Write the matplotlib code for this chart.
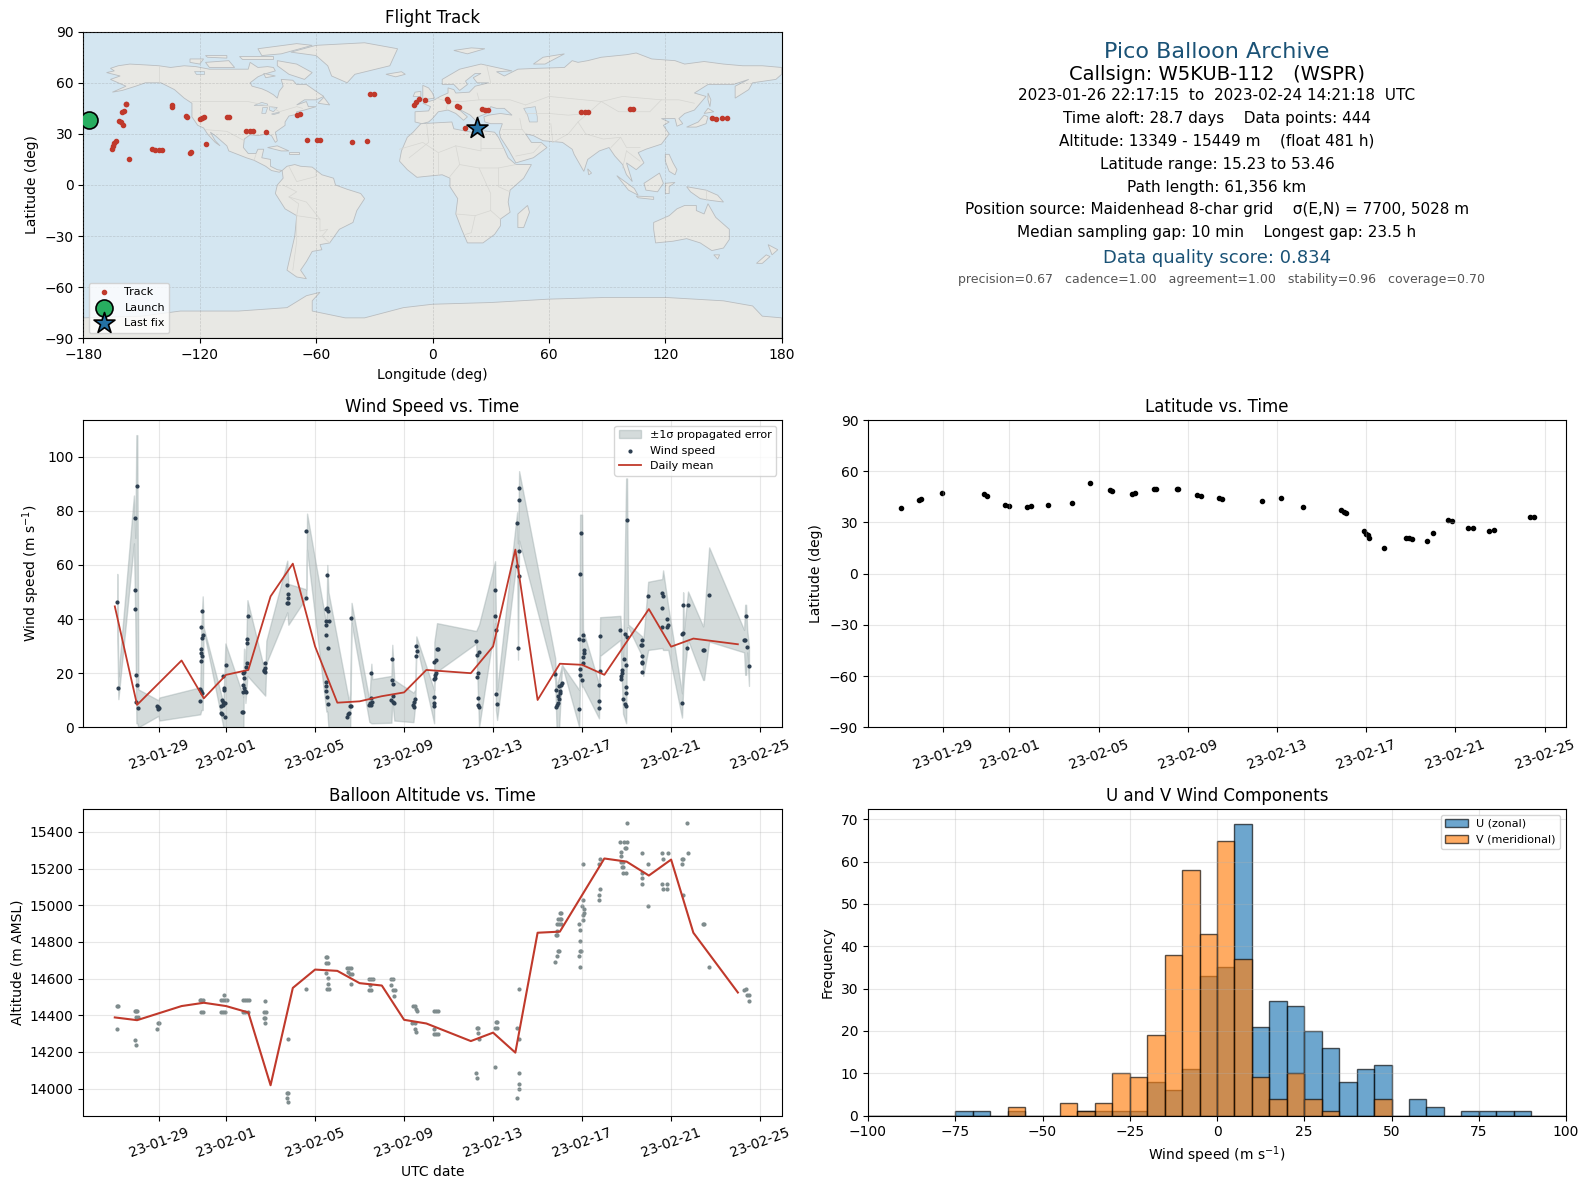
import matplotlib
matplotlib.use("Agg")
import matplotlib.pyplot as plt
import matplotlib.dates as mdates
import pandas as pd

# All times are days since 2023-01-29 00:00 UTC
base_date = pd.Timestamp("2023-01-29")
tick_dates = ["2023-01-29", "2023-02-01", "2023-02-05", "2023-02-09", "2023-02-13",
              "2023-02-17", "2023-02-21", "2023-02-25"]

# Ground track
track_lon = [-157.9, -157.9, -160.1, -158.9, -161.5, -160.8, -159.6, -163, -164.2, -164.9, -165.1,
             -156.7, -144.5, -142.8, -140.9, -139.2, -134.4, -134.4, -127, -126.5, -120, -118.6,
             -117.6, -124.6, -125, -116.9, -106.1, -104.9, -96, -94.3, -92.6, -85.7, -69.6, -68.2,
             -64.6, -59.5, -58.1, -41.5, -33.6, -32.2, -30, -9.6, -8.4, -7.2, -4.1, 7.7, 8.1, 12.7,
             13.9, 25.4, 26.9, 28.8, 16.8, 76.8, 78.5, 80.1, 101.7, 103.2, 144, 145.9, 149.3, 151.7]
track_lat = [47.8, 47.3, 43.1, 43.5, 37.5, 36.7, 35.3, 25.7, 24.5, 23.1, 21.2,
             15.3, 21, 20.8, 20.6, 20.4, 46.7, 45.9, 40.4, 40, 38.8, 39.4,
             39.8, 19.4, 18.8, 24.1, 40, 40, 31.8, 31.8, 31.8, 31, 41.2, 41.8,
             26.5, 26.5, 26.5, 25.3, 25.9, 53.5, 53.5, 46.7, 48.6, 50.2, 49.8, 50.2, 49.6, 46.3,
             45.7, 44.7, 44.3, 44.1, 33.5, 42.9, 42.9, 42.9, 44.7, 44.7, 39.4, 38.8, 39.4, 39.4]
launch_lon, launch_lat = -177.1, 38.2
last_lon, last_lat = 22.8, 33.5

# Simplified coastlines (lon, lat)
north_america = [(-168, 66), (-164, 67), (-166, 68.5), (-162, 70), (-156, 71), (-148, 70.5), (-141, 70), (-135, 69), (-128, 70),
                 (-122, 69.5), (-115, 68), (-108, 68), (-100, 68), (-95, 68),
                 (-94, 72), (-90, 69), (-85, 69.5), (-82, 69), (-81, 67), (-87, 65), (-90, 63.5), (-94, 60), (-93, 58), (-88, 56.5), (-85, 55), (-82, 53),
                 (-80, 51), (-79, 55), (-77, 58), (-78, 62), (-72, 61.5), (-70, 59), (-65, 59), (-60, 55), (-56, 52), (-60, 50),
                 (-66, 50), (-70, 47), (-65, 49), (-64, 46), (-60, 46), (-66, 44), (-70, 43), (-70, 41.5), (-74, 40.5),
                 (-76, 37), (-76, 35), (-81, 31), (-80, 26), (-81, 25), (-83, 29), (-85, 30), (-90, 29), (-94, 29.5),
                 (-97, 27), (-97.5, 22), (-95, 18.5), (-91, 18.5), (-90, 21), (-87, 21), (-88, 16), (-83.5, 15),
                 (-83.5, 11), (-80, 9), (-77.5, 8.5), (-79, 7.5), (-83, 8.5), (-86, 11), (-92, 14.5), (-96, 16),
                 (-105, 20), (-106, 23), (-112, 29), (-114.5, 31), (-112, 26), (-109.5, 23), (-112, 25), (-116, 30),
                 (-118, 33.5), (-121, 35), (-124, 40), (-124, 48), (-128, 51), (-133, 56), (-140, 60), (-148, 60),
                 (-153, 58), (-160, 55.5), (-165, 54.5), (-158, 58), (-162, 60), (-166, 62), (-161, 64)]
south_america = [(-77.5, 8.5), (-75, 11), (-71, 12), (-68, 11), (-62, 10.5), (-57, 6), (-51, 4), (-50, 0), (-44, -2.5),
                 (-37, -5), (-35, -8), (-39, -15), (-41, -22), (-48, -26), (-53, -34), (-58, -35), (-57, -38),
                 (-62, -39), (-65, -45), (-68, -50), (-65, -55), (-70, -54), (-75, -50), (-73, -40), (-71, -30),
                 (-70, -18), (-76, -14), (-81, -5), (-80, 0), (-77, 4)]
africa = [(-6, 36), (10, 37), (11, 33), (20, 31), (25, 32), (32, 31), (34, 28), (37, 21), (39, 16), (43, 12), (51, 12),
          (47, 4), (40, -3), (39, -10), (40, -16), (35, -20), (35, -24), (32, -29), (26, -34), (18, -34), (15, -26),
          (12, -17), (13, -8), (9, -1), (9, 4), (5, 6), (-4, 5), (-8, 4.5), (-13, 9), (-17, 14), (-16, 20), (-13, 28),
          (-10, 31)]
eurasia = [(-9, 37), (-9, 43), (-2, 43.5), (-1, 46), (-5, 48), (1, 50), (4, 52), (8, 54), (8, 57), (11, 56), (12, 54),
           (19, 54.5), (22, 58), (29, 60), (23, 60), (21, 63), (25, 65.5), (22, 65.5), (17, 61), (18, 59), (14, 55.5),
           (11, 59), (5, 59), (5, 62), (14, 68), (25, 71), (41, 67), (33, 66.5), (37, 64), (44, 68), (54, 68.5),
           (68, 69), (72, 73), (75, 72), (80, 73), (87, 75), (100, 76.5), (105, 77.5), (113, 74), (125, 73), (130, 71),
           (140, 72.5), (150, 71), (160, 70), (170, 70), (180, 69),
           (180, 65), (177, 62), (165, 60), (163, 56), (156, 51), (156, 58), (163, 62), (155, 59), (142, 59), (135, 54),
           (141, 52), (135, 44), (130, 42), (127, 39), (129, 36), (126, 34.5), (125, 39), (121, 39), (118, 39),
           (122, 37), (119, 35), (122, 30), (118, 24), (110, 21), (106, 19), (109, 13), (105, 9), (100, 13), (103, 2),
           (100, 6), (98, 12), (94, 17), (91, 22), (86, 20), (80, 15), (78, 8), (73, 18), (72, 21), (67, 25), (57, 26),
           (52, 29), (48, 30), (51, 25), (56, 25), (59, 22), (52, 16), (43, 13), (39, 21), (35, 28), (34.5, 31),
           (36, 36), (30, 36), (27, 37), (26.5, 40), (29, 41), (35, 42), (41, 41), (37, 45), (33, 45), (30, 46),
           (28, 42), (23.5, 40), (23, 37), (19.5, 41), (13, 45), (18, 40), (16, 38), (12, 42), (8, 44), (3, 43),
           (0, 39), (-2, 37), (-5.5, 36)]
australia = [(114, -22), (122, -18), (126, -14), (130, -12), (136, -12), (136, -15), (140, -17), (142, -11), (146, -19),
             (153, -26), (153, -32), (150, -37), (144, -38.5), (138, -34), (131, -31.5), (124, -33), (115, -34),
             (114, -26)]
greenland = [(-73, 78), (-60, 82), (-35, 83.5), (-18, 80), (-22, 70), (-40, 65), (-44, 60), (-52, 64), (-54, 70), (-60, 76)]
antarctica = [(-180, -78), (-150, -77), (-130, -74), (-100, -74), (-75, -72), (-65, -65), (-58, -63), (-62, -68),
              (-62, -74), (-45, -78), (-35, -78), (-15, -72), (0, -70), (30, -69), (60, -67), (90, -66), (120, -66),
              (150, -68), (165, -71), (170, -77), (180, -78), (180, -90), (-180, -90)]
madagascar = [(49, -12), (50, -16), (47, -25), (44, -25), (44, -17)]
iceland = [(-24, 65), (-16, 66.5), (-14, 65), (-19, 63.5)]
britain = [(-5, 50), (1, 51), (0, 54), (-2, 57), (-5, 58.5), (-5, 54)]
ireland = [(-10, 52), (-6, 52), (-6, 55), (-9, 54.5)]
honshu = [(131, 34), (136, 34), (141, 36), (142, 40), (140, 41), (137, 37)]
hokkaido = [(140, 42), (145, 43), (142, 45)]
sumatra = [(95, 5.5), (104, -2), (106, -6), (101, -3)]
java = [(105, -6.5), (114, -7), (114, -8.5), (106, -7.5)]
borneo = [(109, 1), (117, 7), (119, 1), (116, -4), (110, -3)]
sulawesi = [(120, 1), (125, 1.5), (122, -1), (122, -5), (120, -5)]
new_guinea = [(131, -1), (141, -3), (147, -6), (150, -10), (143, -9), (138, -8), (133, -4)]
philippines = [(120, 18), (122, 18), (124, 13), (126, 9), (125, 6), (122, 8), (120, 14)]
new_zealand_n = [(173, -35), (178, -38), (175, -41), (174, -38)]
new_zealand_s = [(172, -41), (174, -42), (170, -46), (167, -46)]
tasmania = [(145, -41), (148, -41), (147, -43.5)]
sri_lanka = [(80, 9.5), (82, 7), (80.5, 6)]
cuba = [(-85, 22), (-80, 23), (-74, 20), (-78, 20)]
hispaniola = [(-74, 19.5), (-69, 19.5), (-69, 18), (-74, 18)]
baffin = [(-80, 73), (-70, 71), (-62, 66), (-66, 62), (-74, 65), (-80, 70)]
victoria_isl = [(-117, 72), (-105, 73), (-102, 69), (-115, 69)]
banks_isl = [(-125, 74), (-118, 74), (-120, 71), (-125, 72)]
melville_isl = [(-117, 76), (-106, 76), (-106, 74.5), (-116, 75)]
ellesmere = [(-90, 80), (-70, 83), (-62, 82), (-78, 77), (-88, 76)]
devon_isl = [(-100, 76), (-82, 76), (-82, 74), (-98, 74)]
southampton_isl = [(-87, 65.5), (-81, 64), (-86, 63)]
newfoundland = [(-59, 48), (-56, 51.5), (-53, 47)]
novaya_zemlya = [(52, 71), (57, 75), (68, 77), (58, 71)]
svalbard = [(11, 79), (20, 80.5), (27, 80), (18, 77)]
sakhalin = [(142, 54), (143.5, 50), (143, 46), (142, 50)]
land_polygons = [north_america, south_america, africa, eurasia, australia, greenland, antarctica, madagascar, iceland,
                 britain, ireland, honshu, hokkaido, sumatra, java, borneo, sulawesi, new_guinea, philippines,
                 new_zealand_n, new_zealand_s, tasmania, sri_lanka, cuba, hispaniola, baffin, victoria_isl, banks_isl,
                 melville_isl, ellesmere, devon_isl, southampton_isl, newfoundland, novaya_zemlya, svalbard, sakhalin]

# Inland water
caspian = [(47, 45), (53, 46), (54, 40), (54, 37), (50, 37), (49, 41)]
lake_superior = [(-92, 46.7), (-88, 48.5), (-85, 47.5), (-85, 46.5)]
lake_michigan = [(-88, 42), (-86, 42), (-85, 45.5), (-87.5, 45.5)]
lake_huron = [(-84, 46), (-80, 45.5), (-82, 43), (-84, 44)]
lake_erie = [(-83, 41.7), (-79, 42.8), (-79, 42.3), (-82, 41.3)]
great_bear = [(-123, 67), (-118, 67), (-118, 65), (-122, 65)]
water_polygons = [caspian, lake_superior, lake_michigan, lake_huron, lake_erie, great_bear]

# Rough country borders
border_lines = [
    [(-141, 70), (-141, 60)], [(-124, 49), (-95, 49), (-83, 46), (-79, 43), (-70, 46), (-67, 45)],
    [(-117, 32.5), (-106, 31.5), (-97, 26)], [(-92, 14.5), (-91, 18)],
    [(-70, -18), (-69, -11), (-74, -7), (-70, -4), (-77, 0)], [(-70, -18), (-58, -20), (-58, -27), (-54, -26), (-57, -30), (-53, -34)],
    [(-70, -18), (-70, -33), (-72, -50)], [(-74, 11), (-70, 2), (-60, 5), (-60, 8)], [(-58, -20), (-65, -10), (-74, -7)],
    [(-17, 21), (-5, 25), (3, 19), (12, 23), (25, 20), (25, 31)], [(25, 22), (37, 22)], [(3, 19), (3, 6)], [(12, 23), (14, 12), (9, 5)],
    [(14, 12), (24, 10), (34, 10), (43, 12)], [(24, 10), (30, -5), (30, -15), (22, -18), (12, -17)], [(34, 10), (34, -1), (40, -4)],
    [(30, -15), (35, -20)], [(22, -18), (20, -28), (17, -29)], [(-3, 36), (-2, 25), (-12, 16)],
    [(2, 51), (8, 49), (7, 44)], [(8, 49), (15, 49), (24, 50), (23, 54)], [(24, 50), (40, 50), (48, 47)], [(28, 70), (30, 60)],
    [(48, 42), (60, 42), (70, 41), (80, 42), (87, 49), (60, 52), (48, 47)], [(87, 49), (98, 52), (118, 50), (127, 50), (135, 48)],
    [(87, 49), (96, 43), (112, 43), (118, 50)], [(80, 42), (75, 37), (79, 30), (88, 27), (97, 28), (100, 22), (107, 22)],
    [(75, 37), (70, 30), (62, 25)], [(61, 36), (62, 25)], [(45, 39), (46, 33), (48, 30)], [(36, 33), (46, 33)], [(43, 17), (52, 19), (56, 24)],
    [(97, 28), (92, 22)], [(100, 20), (98, 10)], [(100, 20), (107, 14)], [(141, -3), (141, -9)],
]

# Wind speed samples
wind_t = [-1.89, -1.84, -1.08, -1.08, -1.08, -0.99, -1.03, -0.99, -1.03, -0.94,
          -0.09, -0.04, 0, -0.04,
          1.93, 1.89, 1.98, 1.93, 1.89, 1.89, 1.93, 1.89, 1.84, 1.89, 1.93, 1.84,
          2.88, 3.01, 2.92, 2.92, 2.83, 2.88, 2.97, 2.88, 2.79, 2.79, 2.83, 2.97,
          4.0, 3.96, 3.96, 3.96, 3.91, 3.82, 3.78, 3.82, 3.78, 3.82, 3.87, 3.78, 3.91, 3.73, 3.78,
          4.76, 4.76, 4.72, 4.76, 4.72,
          5.75, 5.8, 5.8, 5.75, 5.8, 6.61, 6.61,
          7.55, 7.55, 7.51, 7.6, 7.51, 7.64, 7.51, 7.51, 7.6, 7.51, 7.51, 7.51, 7.55, 7.6,
          8.63, 8.58, 8.63, 8.54, 8.49, 8.45,
          9.53, 9.53, 9.57, 9.48, 9.44, 9.53,
          10.47, 10.47, 10.52, 10.52, 10.43, 10.52, 10.56,
          11.55, 11.6, 11.55, 11.51, 11.46, 11.42, 11.46,
          12.35, 12.44, 12.48, 12.53, 12.44, 12.39, 12.39, 12.35, 12.35, 12.35, 12.35,
          14.24, 14.37, 14.28, 14.33, 14.28, 14.33, 14.33, 14.37,
          15.09, 15.09, 15.13, 15.13, 15.18,
          16.17, 16.17, 16.08, 16.17, 16.08, 16.17, 16.12,
          17.79, 17.83, 18.01, 18.1, 18.06, 17.97, 17.92, 17.97, 17.92, 17.88, 17.83, 18.01,
          18.96, 18.91, 19.04, 18.87, 19.04, 19.09, 19.09, 19.04, 19.04, 18.91, 18.91, 19.0, 18.87,
          19.81, 19.81, 19.76, 19.76, 19.76,
          20.71, 20.93, 21.02, 20.89, 20.98, 20.8, 20.8, 20.75, 20.75, 20.84, 20.98, 20.98, 20.93, 20.98, 21.02,
          21.7, 21.65, 21.7, 21.7, 21.7, 21.7, 21.7,
          21.97, 22.6, 22.64, 22.6, 22.82, 22.6, 22.87, 22.82,
          23.49, 23.54, 23.76, 23.54, 23.49, 23.72,
          24.44, 24.48, 24.71,
          26.37, 26.33, 26.28, 26.42, 26.5]
wind_v = [46.3, 14.4, 77.4, 50.7, 43.7, 89.3, 19.3, 15.6, 9.3, 7.0,
          7.9, 7.4, 7.3, 6.7,
          43, 37, 34, 33, 28.9, 27.4, 26.3, 24.4, 14, 13.3, 12.6, 9.6,
          18.9, 23, 14.4, 13.7, 10, 9.3, 8.9, 8.1, 7.7, 5.4, 4.8, 3.7,
          41, 32.6, 31.1, 23.7, 22.2, 20.4, 20, 18.1, 15.6, 14.4, 13.3, 13, 13, 5.6, 5.8,
          23.7, 21.9, 21.1, 20.4, 20.7,
          52.6, 49.3, 47.8, 45.9, 45.9, 72.6, 47.8,
          56.3, 44, 43.7, 43, 39.3, 39.3, 37.8, 34.1, 29.3, 16.7, 15.2, 13.3, 11.1, 8.5,
          40.4, 7.8, 7.8, 5.4, 4.9, 3.7,
          20, 10.7, 9.3, 8.9, 8.1, 8.4,
          25.2, 17.4, 15.9, 11.5, 10, 9.3, 8.9,
          30, 28.1, 26.3, 10.4, 9.3, 8.1, 7.4,
          24.1, 24.8, 28.9, 28.9, 20, 19.3, 18.1, 17.8, 11.1, 8.9, 7.8,
          31.9, 27.8, 26.7, 20, 18.5, 10.7, 8.1, 7.4,
          50.7, 41.1, 35.9, 12.2, 8.5,
          88.5, 84.1, 75.6, 65.2, 59.6, 55.9, 29.3,
          19.6, 13.7, 13.3, 16.3, 15.6, 15.2, 11.5, 10.4, 8.9, 8.1, 7.4, 12.6,
          71.9, 56.7, 34.1, 32.7, 32.2, 28.5, 27.4, 25.9, 23.7, 21.5, 19.3, 17.4, 6.7,
          33.7, 20.7, 15.6, 9.6, 7,
          35.9, 34.4, 33.3, 25.2, 23, 21.1, 20, 18.9, 17.8, 10.4, 14.8, 12.6, 8.5, 7.8, 76.7,
          32.2, 30.4, 30.4, 26.3, 24.1, 23.7, 20.4,
          48.5, 49.6, 48.5, 44.1, 40, 37, 37.8, 37,
          8.9, 45.2, 45.2, 34.8, 34.4, 29.3,
          28.4, 28.4, 48.9,
          41.1, 32.3, 32.3, 29.6, 22.6]

# Outline of the propagated error band
band_t = [-1.89, -1.84, -1.14, -1.08, -1.03, -0.99, -0.94, -0.04, 0, 1.84, 1.89, 1.95, 1.99, 2.88, 2.97, 3.78, 3.81,
          3.87, 3.96, 4.76, 4.81, 5.75, 5.8, 6.61, 6.64, 7.51, 7.55, 7.6, 8.54, 8.58, 8.64, 9.44, 9.53, 9.57, 10.43,
          10.47, 10.56, 11.42, 11.51, 11.55, 12.35, 12.36, 12.48, 14.24, 14.37, 15.09, 15.13, 15.18, 16.08, 16.12,
          16.17, 17.79, 17.85, 17.97, 18.1, 18.87, 18.91, 19.0, 19.04, 19.76, 19.81, 20.72, 20.84, 20.98, 21.02,
          21.07, 21.7, 21.75, 21.97, 22.6, 22.64, 22.87, 23.49, 23.54, 23.58, 23.76, 24.44, 24.48, 24.71, 26.28,
          26.33, 26.37, 26.42, 26.5]
band_lo = [36, 10.4, 68, 40, 1.5, 1.5, 0, 4.2, 2.5, 4.8, 6.4, 6.4, 36, 0, 0, 0, 29,
           9, 19, 11.7, 23.7, 42.5, 37.9, 48, 65.7, 5.8, 5.8, 0, 0, 0, 38.5, 2, 1.5, 1.5, 1.7,
           10, 2.5, 1.9, 9, 31, 1.5, 15.9, 20.6, 31, 0, 38.5, 6.4, 2.7, 63, 25,
           69, 17.5, 0, 0, 23, 0, 18.8, 15, 15, 3.3, 26.4, 32.3, 5, 1.5, 37,
           37, 26.2, 19, 28.6, 29.3, 28.6, 28.6, 3.6, 13.8, 18.8, 32.3, 17.5, 17.5, 31.7, 27.7,
           19.4, 19.4, 27.7, 15.3]
band_hi = [56.7, 18.8, 85.7, 70, 108, 108, 14, 10, 11, 14.8, 38, 48.4, 37, 9, 31, 11.3, 29,
           21, 47, 20, 32, 61.6, 53, 51, 79, 38, 60, 50, 9, 14, 46, 10, 23.5, 17.8, 19,
           30.5, 17.5, 12.8, 14, 33.6, 13.8, 31.6, 38.5, 35.6, 38, 61.4, 38.5, 13.8, 79.5, 68,
           94.7, 25.6, 15, 18.8, 23, 13.8, 78.6, 78.6, 36, 16, 40.7, 41.2, 26, 92, 92,
           38, 33.6, 32, 53.8, 54.8, 58, 44.7, 12.6, 49.9, 36, 50.2, 37.3, 40, 66.5, 36,
           45.3, 45.3, 36, 29.9]

# Daily means
mean_wind_t = [-2, -1, 1, 2, 3, 4, 5, 6, 7, 8, 9, 10, 11, 12, 14, 15, 16, 17, 18, 19, 20, 22, 23, 24, 26]
mean_wind_v = [44.7, 8.3, 24.7, 10.7, 19.4, 21.2, 48.4, 60.5, 29.9, 9.1, 9.6, 11.5, 12.9, 21.2, 20, 29.9, 65.7, 10.1,
               23.5, 23.1, 19.4, 43.7, 29.8, 32.8, 30.7]
mean_alt_t = [-2, -1, 1, 2, 3, 4, 5, 6, 7, 8, 9, 10, 11, 12, 14, 15, 16, 17, 18, 20, 21, 22, 23, 24, 26]
mean_alt_v = [14388, 14373, 14450, 14468, 14450, 14415, 14018, 14549, 14649, 14642, 14575, 14562, 14375, 14355, 14259,
              14305, 14196, 14850, 14856, 15255, 15238, 15162, 15249, 14850, 14524]

# Latitude samples
lat_t = [-1.87, -1.06, -0.97, -0.04, 1.87, 1.97, 2.82, 2.96, 3.8, 3.98, 4.75, 5.81, 6.62, 7.53, 7.59, 8.49, 8.61, 9.5,
         9.56, 10.52, 10.58, 11.41, 11.57, 12.38, 12.53, 14.33, 15.16, 16.16, 17.88, 17.99, 18.09, 18.9, 19.0, 19.06,
         19.14, 19.81, 20.79, 20.91, 21.05, 21.72, 21.99, 22.66, 22.86, 23.55, 23.77, 24.5, 24.75, 26.35, 26.51]
lat_v = [38.2, 43.1, 43.5, 47.5, 46.5, 45.5, 40.4, 39.4, 38.8, 39.4, 40, 41.4, 53.1, 49.2, 48.4, 46.5, 47.1, 49.4,
         49.8, 49.8, 49.4, 46.1, 45.5, 44.3, 43.5, 42.4, 44.1, 39, 37.1, 36.3, 35.3, 25.1, 23.5, 22.4,
         21, 15.3, 20.8, 21, 20.2, 19, 23.9, 31.4, 30.8, 26.5, 26.5, 24.7, 25.3, 32.9, 33.3]

# Altitude samples
alt_t = [-1.89, -1.84, -1.89, -1.08, -1.03, -0.99, -1.03, -0.94, -1.08, -1.03,
         0, -0.04, -0.09,
         1.84, 1.89, 1.98, 1.89, 1.98,
         2.79, 2.88, 2.97, 3.03, 2.92, 2.79, 2.88, 2.97,
         3.78, 3.87, 3.96, 4.03, 3.78, 3.87, 4.0,
         4.76, 4.72, 4.81, 4.72, 4.76, 4.76,
         5.8, 5.75, 5.8, 5.75, 5.8, 6.61,
         7.51, 7.55, 7.51, 7.6, 7.51, 7.6, 7.6, 7.55, 7.64,
         8.45, 8.54, 8.63, 8.49, 8.58, 8.67, 8.63,
         9.44, 9.53, 9.62, 9.48, 9.44, 9.53,
         10.43, 10.52, 10.43, 10.52, 10.61, 10.56,
         11.42, 11.51, 11.55, 11.6, 11.37, 11.51, 11.51, 11.55,
         12.35, 12.44, 12.53, 12.35, 12.35, 12.44, 12.53,
         14.33, 14.28, 14.33, 14.37, 14.24, 14.28,
         15.18, 15.13, 15.09, 15.18, 15.09,
         16.17, 16.08, 16.17, 16.17, 16.17, 16.17, 16.08,
         17.79, 17.88, 17.92, 17.97, 17.83, 17.88, 17.88, 17.88, 17.97, 18.06, 17.92, 18.01, 18.07, 18.0, 18.06,
         18.91, 18.87, 18.91, 18.96, 18.91, 18.91, 18.87, 19.04, 19.04, 19.09, 19.09, 19.0, 19.04, 19.04,
         19.81, 19.76, 19.76, 19.81, 19.76,
         20.71, 20.89, 21.02, 20.75, 20.93, 20.98, 20.77, 20.75, 20.84, 20.8, 20.84, 20.84, 20.98, 21.02,
         21.7, 21.67, 21.7, 21.7, 21.97, 21.97,
         22.6, 22.87, 22.64, 22.6, 22.82, 22.64, 22.82,
         23.49, 23.49, 23.54, 23.54, 23.72, 23.76,
         24.44, 24.48, 24.71,
         26.28, 26.37, 26.42, 26.5, 26.5]
alt_v = [14451, 14451, 14326, 14424, 14424, 14424, 14390, 14390, 14267, 14239,
         14359, 14359, 14326,
         14484, 14484, 14484, 14419, 14419,
         14484, 14484, 14484, 14484, 14511, 14419, 14419, 14419,
         14484, 14484, 14484, 14484, 14419, 14419, 14419,
         14479, 14419, 14419, 14386, 14386, 14359,
         14272, 13978, 13978, 13946, 13929, 14544,
         14718, 14718, 14685, 14685, 14631, 14604, 14571, 14544, 14544,
         14658, 14658, 14658, 14636, 14625, 14625, 14571,
         14598, 14598, 14598, 14566, 14538, 14538,
         14598, 14598, 14566, 14538, 14538, 14506,
         14451, 14451, 14435, 14424, 14359, 14359, 14326, 14310,
         14424, 14424, 14424, 14326, 14299, 14299, 14299,
         14332, 14332, 14305, 14272, 14087, 14060,
         14364, 14364, 14332, 14332, 14120,
         14544, 14332, 14272, 14087, 14027, 14000, 13946,
         14691, 14723, 14751, 14751, 14838, 14838, 14861, 14897, 14897, 14897, 14925, 14925, 14925, 14957, 14957,
         14664, 14723, 14751, 14751, 14805, 14865, 14897, 14919, 14946, 14957, 14979, 14995, 15028, 15224,
         15088, 15055, 15028, 15251, 15224,
         15343, 15343, 15343, 15293, 15311, 15311, 15267, 15235, 15235, 15207, 15207, 15175, 15175, 15447,
         15284, 15175, 15148, 15115, 15224, 14995,
         15284, 15284, 15251, 15115, 15115, 15088, 15088,
         15224, 15251, 15251, 15055, 15447, 15284,
         14897, 14897, 14664,
         14538, 14542, 14511, 14511, 14479]

# Histogram counts, one per 5 m/s bin from -100 to 100
hist_edges = list(range(-100, 105, 5))
u_counts = [0, 0, 0, 0, 0, 1, 1, 0, 1, 0, 0, 0, 1, 1, 1, 1, 8, 6, 11, 33,
            35, 69, 21, 27, 26, 20, 16, 8, 11, 12, 0, 4, 2, 0, 1, 1, 1, 1, 0, 0]
v_counts = [0, 0, 0, 0, 0, 0, 0, 0, 2, 0, 0, 3, 1, 3, 10, 9, 19, 38, 58, 43,
            65, 37, 9, 4, 10, 4, 1, 0, 0, 4, 0, 0, 0, 0, 0, 0, 0, 0, 0, 0]

# Summary text
info_lines = [
    ("Pico Balloon Archive", 16, "#1a5276", 52),
    ("Callsign: W5KUB-112   (WSPR)", 14, "black", 75),
    ("2023-01-26 22:17:15  to  2023-02-24 14:21:18  UTC", 11, "black", 95.2),
    ("Time aloft: 28.7 days    Data points: 444", 11, "black", 118.6),
    ("Altitude: 13349 - 15449 m    (float 481 h)", 11, "black", 140.8),
    ("Latitude range: 15.23 to 53.46", 11, "black", 164.2),
    ("Path length: 61,356 km", 11, "black", 187.5),
    ("Position source: Maidenhead 8-char grid    σ(E,N) = 7700, 5028 m", 11, "black", 209.8),
    ("Median sampling gap: 10 min    Longest gap: 23.5 h", 11, "black", 233),
    ("Data quality score: 0.834", 13, "#1a5276", 258),
    ("precision=0.67   cadence=1.00   agreement=1.00   stability=0.96   coverage=0.70", 9, "#555555", 279.5),
]

red = "#c0392b"
fig_w, fig_h = 1589, 1189


def to_dates(days):
    return base_date + pd.to_timedelta(days, unit="D")


def make_axes(left, right, top, bottom):
    # axes position from pixel edges
    return fig.add_axes([left / fig_w, 1 - bottom / fig_h, (right - left) / fig_w, (bottom - top) / fig_h])


def style_time_axis(ax, start=-3.416, stop=27.97):
    ax.set_xlim(to_dates(start), to_dates(stop))
    ax.set_xticks(pd.to_datetime(tick_dates))
    ax.xaxis.set_major_formatter(mdates.DateFormatter("%y-%m-%d"))
    ax.tick_params(axis="x", labelrotation=20)
    ax.grid(True, alpha=0.3)


fig = plt.figure(figsize=(fig_w / 100, fig_h / 100), dpi=100)

# Flight track
ax = make_axes(83.3, 781.7, 31.7, 338.3)
ax.set_facecolor("#d4e6f1")
for poly in land_polygons:
    ax.fill(*zip(*poly), facecolor="#e8e8e4", edgecolor="#b9bdc0", linewidth=0.6, zorder=1)
for poly in water_polygons:
    ax.fill(*zip(*poly), facecolor="#d4e6f1", edgecolor="#b9bdc0", linewidth=0.5, zorder=1.1)
for line in border_lines:
    ax.plot(*zip(*line), color="#d6d6d2", linewidth=0.5, zorder=1.2)
ax.scatter(track_lon, track_lat, s=9, color=red, label="Track", zorder=3)
ax.scatter([launch_lon], [launch_lat], s=150, color="#27ae60", edgecolor="black", linewidth=1.2, label="Launch", zorder=4)
ax.scatter([last_lon], [last_lat], s=250, marker="*", color="#2471a3", edgecolor="black", linewidth=1.2, label="Last fix", zorder=4)
ax.set_xlim(-180, 180)
ax.set_ylim(-90, 90)
ax.set_xticks(range(-180, 181, 60))
ax.set_yticks(range(-90, 91, 30))
ax.grid(True, alpha=0.3, linestyle="--", linewidth=0.5, color="gray", zorder=2)
ax.set_axisbelow(False)
ax.set_xlabel("Longitude (deg)")
ax.set_ylabel("Latitude (deg)")
ax.set_title("Flight Track")
ax.legend(loc="lower left", fontsize=8)

# Summary panel
ax = make_axes(868, 1566, 31, 338.3)
ax.axis("off")
for text, size, color, ypix in info_lines:
    xpos = 0.5 + (4 / 698 if size == 9 else 0)
    ax.text(xpos, 1 - (ypix - 31) / 307.3, text, fontsize=size, color=color, ha="center", va="center",
            transform=ax.transAxes)

# Wind speed
ax = make_axes(83.3, 781.7, 420, 727.3)
ax.fill_between(to_dates(band_t), band_lo, band_hi, color="#95a5a6", alpha=0.4, label="±1σ propagated error")
ax.scatter(to_dates(wind_t), wind_v, s=4, color="#2c3e50", label="Wind speed", zorder=3)
ax.plot(to_dates(mean_wind_t), mean_wind_v, color=red, linewidth=1.3, label="Daily mean", zorder=4)
ax.set_ylim(0, 113.6)
style_time_axis(ax)
ax.set_ylabel("Wind speed (m s$^{-1}$)")
ax.set_title("Wind Speed vs. Time")
ax.legend(loc="upper right", fontsize=8)

# Latitude
ax = make_axes(868, 1566, 420, 727.3)
ax.scatter(to_dates(lat_t), lat_v, s=9, color="black")
ax.set_ylim(-90, 90)
ax.set_yticks(range(-90, 91, 30))
style_time_axis(ax, -3.345, 27.96)
ax.set_ylabel("Latitude (deg)")
ax.set_title("Latitude vs. Time")

# Altitude
ax = make_axes(83.3, 781.7, 809, 1115.5)
ax.scatter(to_dates(alt_t), alt_v, s=4, color="#7f8c8d")
ax.plot(to_dates(mean_alt_t), mean_alt_v, color=red, linewidth=1.5)
ax.set_ylim(13853, 15525)
ax.set_yticks(range(14000, 15401, 200))
style_time_axis(ax)
ax.set_xlabel("UTC date")
ax.set_ylabel("Altitude (m AMSL)")
ax.set_title("Balloon Altitude vs. Time")

# U and V histogram
ax = make_axes(868, 1566, 809, 1115.5)
ax.bar(hist_edges[:-1], u_counts, width=5, align="edge", color="#1f77b4", alpha=0.65, edgecolor="black", label="U (zonal)")
ax.bar(hist_edges[:-1], v_counts, width=5, align="edge", color="#ff7f0e", alpha=0.65, edgecolor="black", label="V (meridional)")
ax.set_xlim(-100, 100)
ax.set_ylim(0, 72.45)
ax.grid(True, alpha=0.3)
ax.set_xlabel("Wind speed (m s$^{-1}$)")
ax.set_ylabel("Frequency")
ax.set_title("U and V Wind Components")
ax.legend(loc="upper right", fontsize=8)

fig.savefig("out.png", dpi=100)
